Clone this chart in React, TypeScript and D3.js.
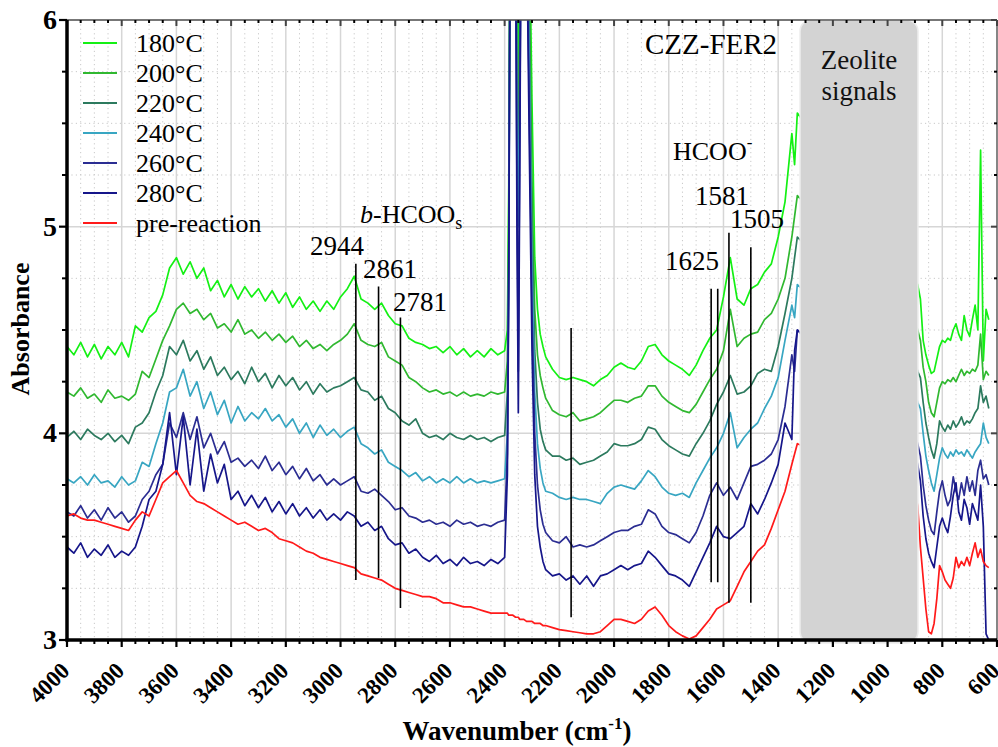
import React from 'react';
import * as d3 from 'd3';

// ---------- data ----------
const WAVENUMBER = [
  4000, 3975, 3950, 3925, 3900, 3875, 3850, 3825, 3800, 3775, 3750, 3725, 3700, 3675, 3650, 3625,
  3600, 3575, 3550, 3525, 3500, 3475, 3450, 3425, 3400, 3375, 3350, 3325, 3300, 3275, 3250, 3225,
  3200, 3175, 3150, 3125, 3100, 3075, 3050, 3025, 3000, 2975, 2950, 2925, 2900, 2875, 2850, 2825,
  2800, 2775, 2750, 2725, 2700, 2675, 2650, 2625, 2600, 2575, 2550, 2525, 2500, 2475, 2450, 2425,
  2400, 2390, 2385, 2380, 2370, 2360, 2355, 2350, 2345, 2340, 2330, 2320, 2310, 2300, 2290, 2280,
  2270, 2260, 2250,
  2225, 2200, 2175, 2150, 2125, 2100, 2075, 2050, 2025, 2000, 1975, 1950, 1925, 1900, 1875, 1850,
  1825, 1800, 1775, 1750, 1725, 1700, 1675, 1650, 1625, 1600, 1575, 1550, 1525, 1500, 1475, 1450,
  1425, 1400, 1375, 1350, 1340, 1330,
  900, 890, 880, 870, 860, 850, 840, 830, 820, 810, 800, 790, 780, 770, 760, 750, 740, 730, 720, 710,
  700, 690, 680, 670, 660, 650, 640, 630,
];

const ABS_180 = [
  4.42, 4.38, 4.44, 4.37, 4.43, 4.36, 4.42, 4.38, 4.44, 4.37,
  4.52, 4.49, 4.56, 4.59, 4.67, 4.80, 4.85, 4.77, 4.83, 4.75,
  4.80, 4.69, 4.74, 4.66, 4.72, 4.65, 4.71, 4.66, 4.70, 4.64,
  4.69, 4.63, 4.68, 4.61, 4.66, 4.60, 4.64, 4.59, 4.64, 4.60,
  4.66, 4.70, 4.76, 4.65, 4.63, 4.60, 4.63, 4.57, 4.53, 4.52,
  4.46, 4.44, 4.43, 4.41, 4.42, 4.39, 4.42, 4.38, 4.41, 4.37,
  4.40, 4.37, 4.41, 4.38,
  4.40, 4.50, 5.20, 6.50, 6.50, 6.50, 6.30, 5.80, 6.30, 6.50, 6.50, 6.50, 6.50, 5.60, 4.85, 4.60, 4.48, 4.42, 4.37,
  4.31, 4.27, 4.26, 4.27, 4.26, 4.25, 4.23, 4.26, 4.28, 4.32,
  4.34, 4.32, 4.31, 4.35, 4.42, 4.43, 4.38, 4.35, 4.33, 4.31,
  4.28, 4.33, 4.40, 4.46, 4.50, 4.66, 4.85, 4.65, 4.62, 4.70,
  4.72, 4.78, 4.82, 4.95, 5.12, 5.45, 5.30, 5.55,
  4.75, 4.72, 4.65, 4.45, 4.38, 4.33, 4.29, 4.30, 4.36, 4.42,
  4.45, 4.44, 4.46, 4.45, 4.50, 4.53, 4.48, 4.45, 4.57, 4.50,
  4.47, 4.55, 4.62, 4.50, 5.37, 4.35, 4.60, 4.55,
];

const ABS_200 = [
  4.20, 4.18, 4.22, 4.17, 4.19, 4.15, 4.21, 4.17, 4.18, 4.16,
  4.19, 4.30, 4.27, 4.36, 4.45, 4.52, 4.60, 4.63, 4.58, 4.60,
  4.55, 4.58, 4.51, 4.53, 4.49, 4.55, 4.48, 4.50, 4.46, 4.49,
  4.45, 4.48, 4.44, 4.47, 4.42, 4.45, 4.41, 4.43, 4.40, 4.43,
  4.45, 4.48, 4.53, 4.45, 4.43, 4.42, 4.44, 4.37, 4.35, 4.33,
  4.27, 4.25, 4.22, 4.20, 4.21, 4.19, 4.20, 4.18, 4.20, 4.18,
  4.19, 4.18, 4.20, 4.19,
  4.20, 4.35, 5.00, 6.50, 6.50, 6.50, 6.00, 5.50, 6.00, 6.50, 6.50, 6.50, 6.20, 5.20, 4.60, 4.38, 4.28, 4.22, 4.17,
  4.11, 4.09, 4.08, 4.10, 4.06, 4.07, 4.08, 4.10, 4.13, 4.16,
  4.16, 4.15, 4.17, 4.18, 4.23, 4.23, 4.18, 4.15, 4.13, 4.11,
  4.10, 4.14, 4.20, 4.26, 4.31, 4.40, 4.60, 4.42, 4.46, 4.48,
  4.49, 4.55, 4.58, 4.65, 4.75, 4.95, 5.05, 5.15,
  4.55, 4.50, 4.45, 4.32, 4.25, 4.15, 4.10, 4.08, 4.15, 4.22,
  4.25, 4.24, 4.26, 4.25, 4.27, 4.25, 4.28, 4.31, 4.28, 4.30,
  4.29, 4.31, 4.30, 4.33, 4.48, 4.26, 4.30, 4.28,
];

const ABS_220 = [
  3.98, 4.01, 3.97, 4.02, 3.99, 3.97, 4.00, 3.96, 3.99, 3.95,
  4.03, 4.05, 4.10, 4.20, 4.28, 4.42, 4.38, 4.45, 4.35, 4.40,
  4.31, 4.37, 4.28, 4.32, 4.26, 4.30, 4.24, 4.32, 4.25, 4.29,
  4.22, 4.28, 4.23, 4.27, 4.21, 4.25, 4.19, 4.24, 4.20, 4.22,
  4.23, 4.25, 4.27, 4.21, 4.20, 4.16, 4.18, 4.12, 4.10, 4.06,
  4.04, 4.07, 4.00, 3.98, 3.99, 3.97, 4.00, 3.98, 3.97, 3.99,
  3.97, 3.98, 3.96, 3.98,
  3.99, 4.20, 4.90, 6.50, 6.50, 6.50, 5.80, 5.20, 5.80, 6.50, 6.50, 6.50, 6.00, 5.00, 4.40, 4.15, 4.02, 3.96, 3.92,
  3.89, 3.89, 3.87, 3.88, 3.85, 3.86, 3.87, 3.89, 3.91, 3.95,
  3.94, 3.94, 3.95, 3.97, 4.03, 4.02, 3.97, 3.94, 3.92, 3.90,
  3.89, 3.95, 4.00, 4.06, 4.14, 4.20, 4.28, 4.19, 4.20, 4.23,
  4.29, 4.31, 4.30, 4.42, 4.58, 4.75, 4.85, 4.95,
  4.35, 4.30, 4.27, 4.15, 4.05, 3.98, 3.92, 3.88, 3.95, 4.06,
  4.03, 4.01, 4.04, 4.02, 4.06, 4.03, 4.05, 4.08, 4.04, 4.06,
  4.05, 4.07, 4.10, 4.12, 4.23, 4.15, 4.18, 4.12,
];

const ABS_240 = [
  3.78, 3.76, 3.79, 3.75, 3.80, 3.76, 3.77, 3.74, 3.79, 3.75,
  3.77, 3.86, 3.84, 3.95, 4.05, 4.20, 4.22, 4.31, 4.18, 4.25,
  4.12, 4.20, 4.09, 4.16, 4.05, 4.13, 4.06, 4.10, 4.07, 4.12,
  4.06, 4.09, 4.03, 4.07, 4.00, 4.05, 3.98, 4.04, 3.99, 4.02,
  3.98, 4.01, 4.03, 3.95, 3.93, 3.90, 3.92, 3.86, 3.84, 3.82,
  3.79, 3.81, 3.77, 3.79, 3.76, 3.78, 3.76, 3.79, 3.76, 3.78,
  3.76, 3.77, 3.76, 3.77,
  3.78, 4.00, 4.80, 6.50, 6.50, 6.50, 5.60, 5.00, 5.60, 6.50, 6.50, 6.50, 5.80, 4.80, 4.20, 3.95, 3.83, 3.76, 3.72,
  3.71, 3.69, 3.68, 3.69, 3.68, 3.68, 3.67, 3.66, 3.71, 3.74,
  3.75, 3.74, 3.73, 3.77, 3.82, 3.79, 3.74, 3.71, 3.70, 3.71,
  3.69, 3.76, 3.82, 3.88, 3.93, 4.00, 4.10, 3.93, 3.98, 4.02,
  4.05, 4.12, 4.18, 4.27, 4.45, 4.62, 4.56, 4.72,
  4.20, 4.15, 4.12, 4.00, 3.89, 3.82, 3.76, 3.72, 3.80, 3.88,
  3.93, 3.90, 3.88, 3.91, 3.89, 3.92, 3.90, 3.91, 3.89, 3.92,
  3.90, 3.88, 3.91, 3.93, 3.95, 4.05, 3.98, 3.95,
];

const ABS_260 = [
  3.62, 3.60, 3.65, 3.59, 3.63, 3.58, 3.64, 3.59, 3.62, 3.57,
  3.60, 3.68, 3.72, 3.80, 3.85, 4.05, 3.98, 4.10, 3.97, 4.08,
  3.93, 4.00, 3.90, 3.96, 3.86, 3.88, 3.84, 3.87, 3.83, 3.89,
  3.82, 3.86, 3.80, 3.84, 3.78, 3.83, 3.77, 3.80, 3.75, 3.78,
  3.75, 3.77, 3.79, 3.72, 3.71, 3.73, 3.70, 3.67, 3.63, 3.64,
  3.60, 3.59, 3.57, 3.58, 3.56, 3.57, 3.55, 3.58, 3.56, 3.57,
  3.55, 3.56, 3.55, 3.57,
  3.58, 3.90, 4.80, 6.50, 6.50, 6.50, 5.20, 4.30, 5.40, 6.50, 6.50, 6.50, 5.60, 4.60, 4.00, 3.75, 3.63, 3.56, 3.52,
  3.48, 3.47, 3.50, 3.45, 3.46, 3.45, 3.46, 3.48, 3.50, 3.52,
  3.53, 3.53, 3.55, 3.56, 3.63, 3.61, 3.55, 3.52, 3.51, 3.49,
  3.47, 3.52, 3.60, 3.70, 3.76, 3.70, 3.74, 3.68, 3.76, 3.84,
  3.85, 3.87, 3.90, 3.97, 4.13, 4.38, 4.30, 4.50,
  4.00, 3.95, 3.89, 3.75, 3.65, 3.58, 3.53, 3.51, 3.62, 3.72,
  3.77, 3.70, 3.65, 3.68, 3.79, 3.72, 3.68, 3.76, 3.70, 3.79,
  3.72, 3.77, 3.70, 3.82, 3.87, 3.78, 3.80, 3.75,
];

const ABS_280 = [
  3.45, 3.42, 3.47, 3.40, 3.44, 3.41, 3.46, 3.40, 3.43, 3.41,
  3.45, 3.55, 3.68, 3.72, 3.85, 4.10, 3.80, 4.08, 3.75, 4.02,
  3.72, 3.90, 3.76, 3.85, 3.68, 3.72, 3.65, 3.70, 3.64, 3.69,
  3.62, 3.67, 3.61, 3.66, 3.60, 3.64, 3.59, 3.63, 3.58, 3.61,
  3.58, 3.62, 3.60, 3.55, 3.57, 3.53, 3.55, 3.49, 3.46, 3.47,
  3.42, 3.44, 3.40, 3.38, 3.41, 3.37, 3.39, 3.36, 3.40, 3.37,
  3.38, 3.36, 3.39, 3.37,
  3.40, 3.80, 4.70, 6.50, 6.50, 6.50, 5.00, 4.10, 5.20, 6.50, 6.50, 6.50, 5.40, 4.40, 3.80, 3.55, 3.45, 3.38, 3.34,
  3.31, 3.32, 3.29, 3.31, 3.27, 3.31, 3.26, 3.31, 3.32, 3.34,
  3.36, 3.34, 3.36, 3.37, 3.43, 3.40, 3.36, 3.32, 3.31, 3.29,
  3.26, 3.33, 3.40, 3.47, 3.55, 3.50, 3.49, 3.52, 3.55, 3.66,
  3.61, 3.68, 3.76, 3.85, 4.05, 3.97, 4.40, 4.50,
  3.90, 3.85, 3.77, 3.60, 3.49, 3.42, 3.38, 3.35, 3.45, 3.55,
  3.59, 3.55, 3.52, 3.60, 3.70, 3.76, 3.62, 3.58, 3.68, 3.64,
  3.56, 3.66, 3.62, 3.58, 3.75, 3.55, 3.03, 3.00,
];

const ABS_PRE = [
  3.60, 3.61, 3.59, 3.58, 3.58, 3.57, 3.56, 3.55, 3.54, 3.53,
  3.58, 3.62, 3.60, 3.68, 3.76, 3.79, 3.82, 3.76, 3.70, 3.67,
  3.66, 3.64, 3.62, 3.60, 3.58, 3.56, 3.57, 3.55, 3.53, 3.54,
  3.52, 3.49, 3.48, 3.47, 3.45, 3.43, 3.42, 3.40, 3.39, 3.38,
  3.37, 3.36, 3.35, 3.32, 3.31, 3.30, 3.29, 3.27, 3.25, 3.24,
  3.23, 3.22, 3.21, 3.21, 3.20, 3.18, 3.18, 3.17, 3.16, 3.16,
  3.15, 3.14, 3.13, 3.13,
  3.13, 3.13, 3.12, 3.12, 3.12, 3.11, 3.11, 3.11, 3.10, 3.10, 3.10, 3.09, 3.09, 3.09, 3.08, 3.08, 3.08, 3.07, 3.07,
  3.06, 3.05, 3.045, 3.04, 3.035, 3.03, 3.03, 3.04, 3.07, 3.10,
  3.10, 3.09, 3.08, 3.10, 3.14, 3.16, 3.12, 3.07, 3.04, 3.02,
  3.005, 3.02, 3.06, 3.10, 3.15, 3.17, 3.19, 3.26, 3.33, 3.38,
  3.43, 3.46, 3.54, 3.63, 3.72, 3.85, 3.90, 3.95,
  3.72, 3.65, 3.45, 3.30, 3.15, 3.04, 3.03, 3.08, 3.20, 3.36,
  3.33, 3.29, 3.27, 3.25, 3.30, 3.40, 3.35, 3.38, 3.36, 3.40,
  3.36, 3.42, 3.47, 3.40, 3.44, 3.38, 3.36, 3.35,
];

const SERIES_NAMES = ['180°C', '200°C', '220°C', '240°C', '260°C', '280°C', 'pre-reaction'];
const SERIES_COLORS = ['#14f014', '#30b830', '#2c7a5e', '#38a6c2', '#2b2d92', '#16168a', '#ff1a1a'];
const SERIES_VALUES = [ABS_180, ABS_200, ABS_220, ABS_240, ABS_260, ABS_280, ABS_PRE];

const X_TICKS = [4000, 3800, 3600, 3400, 3200, 3000, 2800, 2600, 2400, 2200, 2000, 1800, 1600, 1400, 1200, 1000, 800, 600];
const Y_TICKS = [3, 4, 5, 6];

// peak marker lines: wavenumber, top absorbance, bottom absorbance
const MARKER_WN = [2944, 2861, 2781, 2157, 1645, 1621, 1580, 1500];
const MARKER_TOP = [4.82, 4.71, 4.56, 4.51, 4.70, 4.70, 4.97, 4.90];
const MARKER_BOTTOM = [3.29, 3.30, 3.155, 3.11, 3.28, 3.28, 3.18, 3.18];

const ZEOLITE_RANGE = [1320, 889];

const SERIF = "'Liberation Serif', 'Times New Roman', Times, serif";

export default function App() {
  const W = 998;
  const H = 747;
  const left = 67, right = 997, top = 20, bottom = 640;
  const x = d3.scaleLinear().domain([4000, 600]).range([left, right]);
  const y = d3.scaleLinear().domain([3, 6]).range([bottom, top]);

  const line = d3
    .line<number>()
    .x((_, i) => x(WAVENUMBER[i]))
    .y((d) => y(d));

  const minorX = d3.range(600, 4001, 50).filter((v) => v % 200 !== 0);
  const minorY = d3.range(3, 6.001, 0.25).filter((v) => Math.abs(v - Math.round(v)) > 1e-6);

  const legendBase = 52;
  const legendStep = 30;

  return (
    <svg
      width={W}
      height={H}
      style={{ position: 'absolute', left: 0, top: 0, background: '#fff' }}
      fontFamily={SERIF}
    >
      <defs>
        <clipPath id="plotclip">
          <rect x={left} y={top} width={right - left} height={bottom - top} />
        </clipPath>
      </defs>

      {/* grid */}
      {minorX.map((v) => (
        <line key={'mx' + v} x1={x(v)} x2={x(v)} y1={top} y2={bottom} stroke="#c8c8c8" strokeWidth={1} strokeDasharray="1.2 3.2" />
      ))}
      {minorY.map((v) => (
        <line key={'my' + v} x1={left} x2={right} y1={y(v)} y2={y(v)} stroke="#c8c8c8" strokeWidth={1} strokeDasharray="1.2 3.2" />
      ))}
      {X_TICKS.map((v) => (
        <line key={'gx' + v} x1={x(v)} x2={x(v)} y1={top} y2={bottom} stroke="#d6d6d6" strokeWidth={1.5} />
      ))}
      {Y_TICKS.map((v) => (
        <line key={'gy' + v} x1={left} x2={right} y1={y(v)} y2={y(v)} stroke="#d6d6d6" strokeWidth={1.5} />
      ))}

      {/* curves */}
      <g clipPath="url(#plotclip)">
        {SERIES_VALUES.map((vals, k) => (
          <path key={'s' + k} d={line(vals) || ''} fill="none" stroke={SERIES_COLORS[k]} strokeWidth={1.7} strokeLinejoin="round" />
        ))}
      </g>

      {/* zeolite box */}
      <rect
        x={x(ZEOLITE_RANGE[0])}
        y={top}
        width={x(ZEOLITE_RANGE[1]) - x(ZEOLITE_RANGE[0])}
        height={bottom - top + 3}
        rx={11}
        fill="#d3d3d3"
        stroke="#ececec"
        strokeWidth={1.5}
      />
      <text x={(x(ZEOLITE_RANGE[0]) + x(ZEOLITE_RANGE[1])) / 2} y={69} fontSize={27} textAnchor="middle" fill="#111">Zeolite</text>
      <text x={(x(ZEOLITE_RANGE[0]) + x(ZEOLITE_RANGE[1])) / 2} y={100} fontSize={27} textAnchor="middle" fill="#111">signals</text>

      {/* marker lines */}
      {MARKER_WN.map((wn, i) => (
        <line key={'mk' + i} x1={x(wn)} x2={x(wn)} y1={y(MARKER_TOP[i])} y2={y(MARKER_BOTTOM[i])} stroke="#000" strokeWidth={1.6} />
      ))}

      {/* annotations */}
      <text x={310} y={255} fontSize={27} fill="#000">2944</text>
      <text x={363} y={278} fontSize={27} fill="#000">2861</text>
      <text x={393} y={311} fontSize={27} fill="#000">2781</text>
      <text x={665} y={270} fontSize={27} fill="#000">1625</text>
      <text x={695} y={205} fontSize={27} fill="#000">1581</text>
      <text x={730} y={228} fontSize={27} fill="#000">1505</text>
      <text x={673} y={160} fontSize={26} fill="#000">
        HCOO<tspan dy={-12} fontSize={17}>-</tspan>
      </text>
      <text x={360} y={223} fontSize={26} fill="#000">
        <tspan fontStyle="italic">b</tspan>-HCOO<tspan dy={6} fontSize={18}>s</tspan>
      </text>
      <text x={645} y={54} fontSize={29} fill="#000">CZZ-FER2</text>

      {/* frame top/right */}
      <line x1={left} x2={right} y1={top} y2={top} stroke="#555" strokeWidth={1.3} />
      <line x1={right} x2={right} y1={top} y2={bottom} stroke="#555" strokeWidth={1.3} />
      {minorX.map((v) => (
        <line key={'tmx' + v} x1={x(v)} x2={x(v)} y1={top} y2={top + 3} stroke="#000" strokeWidth={2} />
      ))}
      {X_TICKS.map((v) => (
        <line key={'tx' + v} x1={x(v)} x2={x(v)} y1={top} y2={top + 6} stroke="#444" strokeWidth={2} />
      ))}
      {minorY.map((v) => (
        <line key={'rmy' + v} x1={right - 3} x2={right} y1={y(v)} y2={y(v)} stroke="#000" strokeWidth={2} />
      ))}
      {Y_TICKS.map((v) => (
        <line key={'ry' + v} x1={right - 6} x2={right} y1={y(v)} y2={y(v)} stroke="#444" strokeWidth={2} />
      ))}

      {/* bottom axis */}
      <line x1={left - 1.5} x2={right} y1={bottom} y2={bottom} stroke="#000" strokeWidth={3.5} />
      {minorX.map((v) => (
        <line key={'bmx' + v} x1={x(v)} x2={x(v)} y1={bottom} y2={bottom + 4} stroke="#000" strokeWidth={2} />
      ))}
      {X_TICKS.map((v) => (
        <line key={'bx' + v} x1={x(v)} x2={x(v)} y1={bottom} y2={bottom + 7} stroke="#000" strokeWidth={2.2} />
      ))}
      {X_TICKS.map((v) => (
        <text
          key={'lx' + v}
          transform={`translate(${x(v) + 4},${672}) rotate(-45)`}
          textAnchor="end"
          fontSize={23}
          fontWeight="bold"
          fill="#000"
        >
          {v}
        </text>
      ))}

      {/* left axis */}
      <line x1={left} x2={left} y1={top} y2={bottom + 1.5} stroke="#000" strokeWidth={3.5} />
      {minorY.map((v) => (
        <line key={'lmy' + v} x1={left - 5} x2={left} y1={y(v)} y2={y(v)} stroke="#000" strokeWidth={2} />
      ))}
      {Y_TICKS.map((v) => (
        <line key={'ly' + v} x1={left - 8} x2={left} y1={y(v)} y2={y(v)} stroke="#000" strokeWidth={2.2} />
      ))}
      {Y_TICKS.map((v) => (
        <text key={'lyt' + v} x={57} y={y(v) + 9} textAnchor="end" fontSize={28} fontWeight="bold" fill="#000">
          {v}
        </text>
      ))}

      {/* axis titles */}
      <text transform="translate(29,329) rotate(-90)" textAnchor="middle" fontSize={26} fontWeight="bold" fill="#000">
        Absorbance
      </text>
      <text x={517} y={740} textAnchor="middle" fontSize={27} fontWeight="bold" fill="#000">
        Wavenumber (cm<tspan dy={-11} fontSize={17}>-1</tspan><tspan dy={11}>)</tspan>
      </text>

      {/* legend */}
      {SERIES_NAMES.map((name, k) => (
        <g key={'lg' + k}>
          <line
            x1={83}
            x2={117}
            y1={legendBase + k * legendStep - 9}
            y2={legendBase + k * legendStep - 9}
            stroke={SERIES_COLORS[k]}
            strokeWidth={2}
          />
          <text x={136} y={legendBase + k * legendStep} fontSize={26} fill="#000">
            {name}
          </text>
        </g>
      ))}
    </svg>
  );
}
